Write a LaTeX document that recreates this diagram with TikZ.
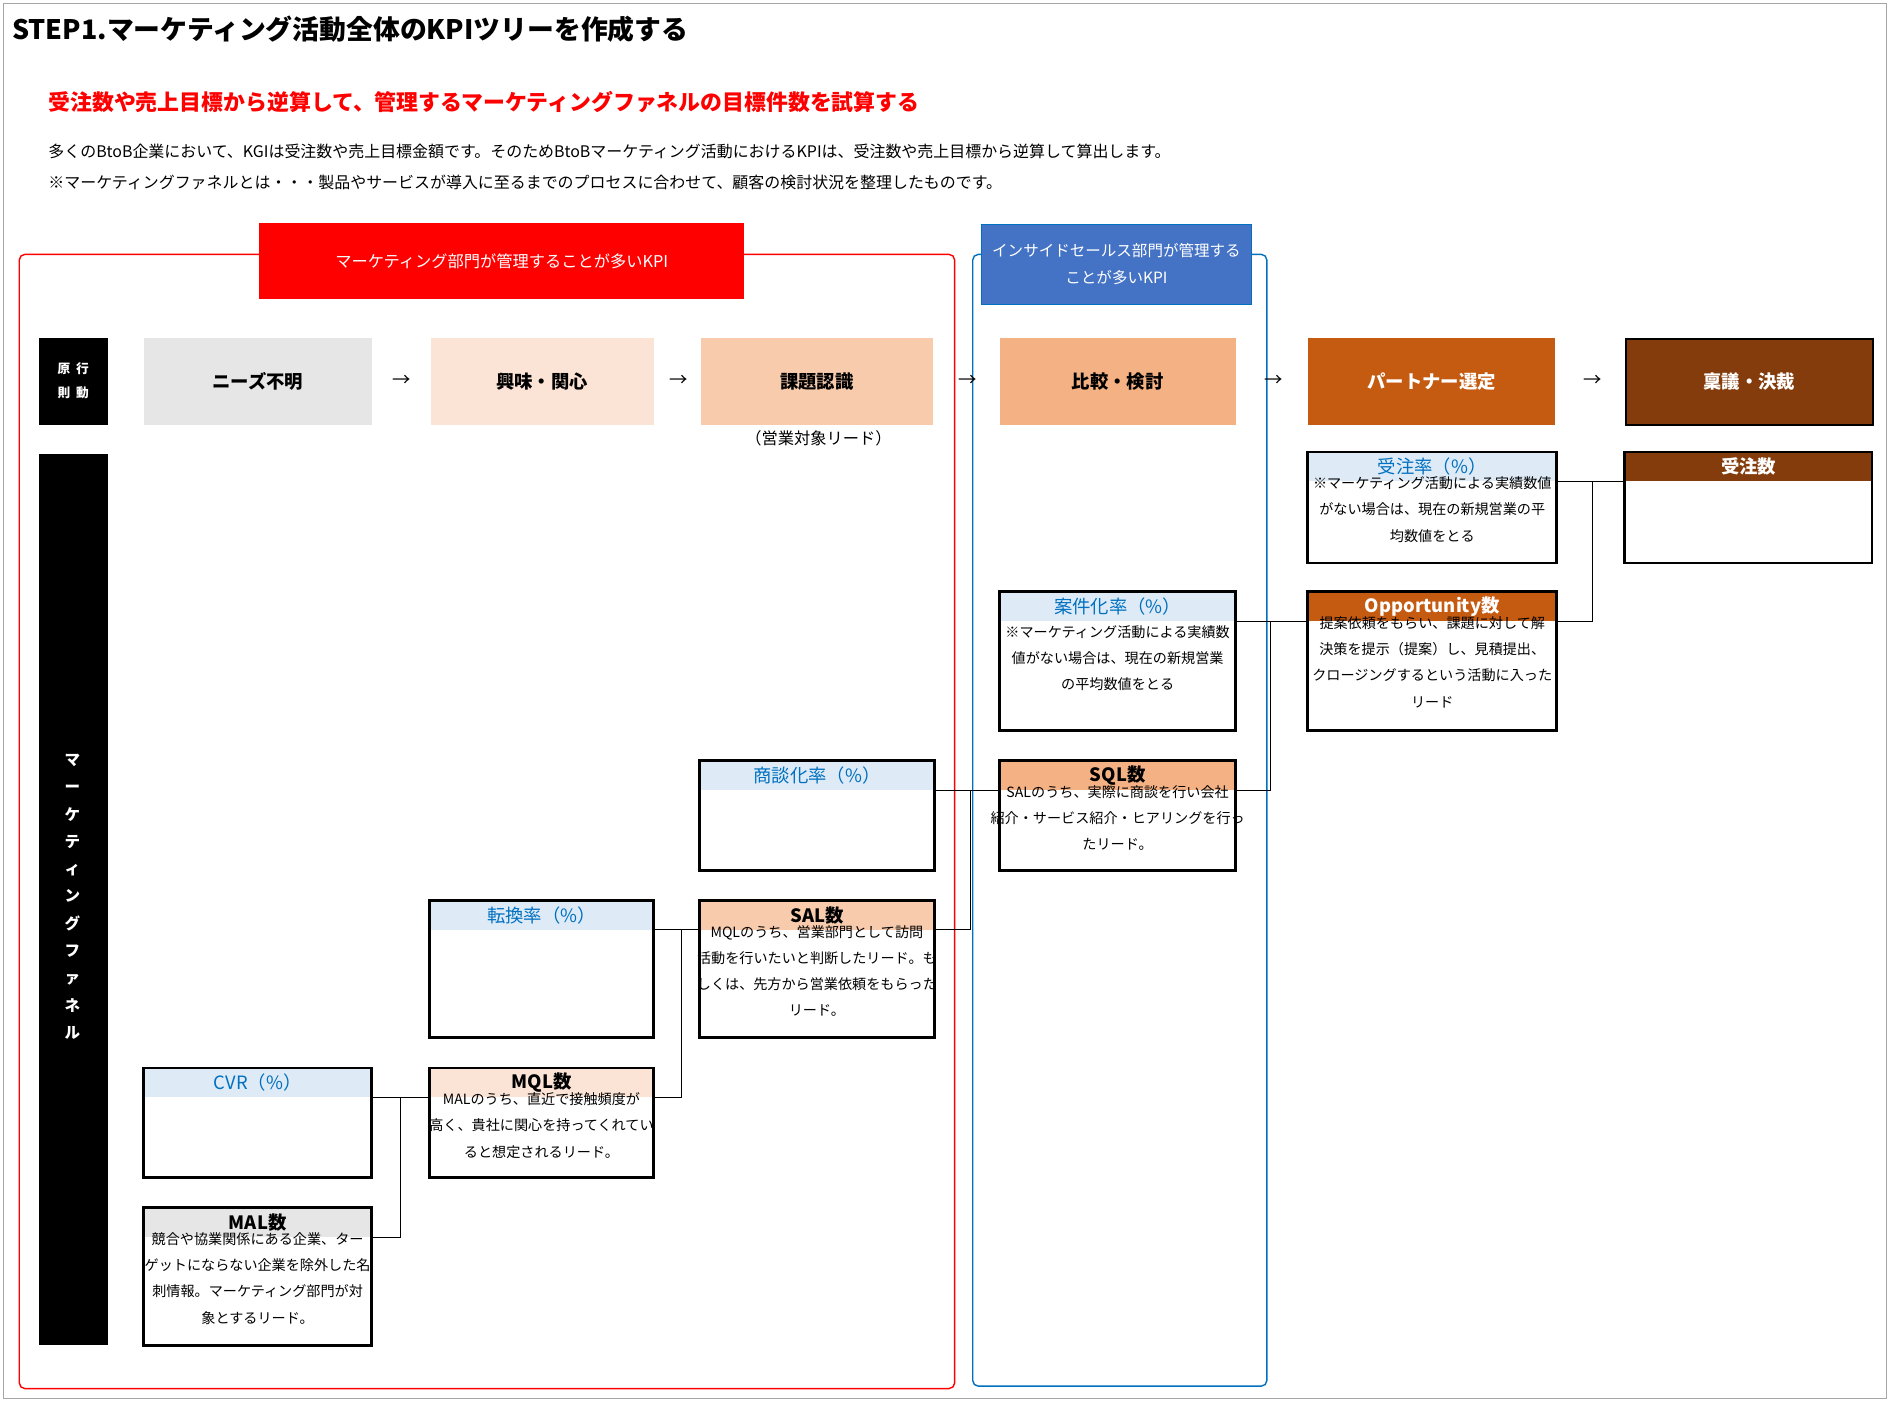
\documentclass[tikz,border=0pt]{standalone}
\usepackage{fontspec}
\setmainfont{Noto Sans CJK JP}
\usetikzlibrary{positioning,calc}
\definecolor{c0}{HTML}{E6E6E6}
\definecolor{c1}{HTML}{FBE4D5}
\definecolor{c2}{HTML}{F8CBAD}
\definecolor{c3}{HTML}{F4B183}
\definecolor{c4}{HTML}{C55A11}
\definecolor{c5}{HTML}{843C0C}
\definecolor{lb}{HTML}{DEEBF7}
\definecolor{bt}{HTML}{0070C0}
\definecolor{hb}{HTML}{4472C4}
\tikzset{
  stage/.style={anchor=north west, minimum height=72*0.03cm, inner sep=0pt, font=\fontsize{13}{15}\selectfont\bfseries},
  body/.style={anchor=north, align=center, font=\fontsize{10}{18.5}\selectfont, inner sep=0pt},
  head/.style={anchor=north west, minimum height=24*0.03cm, inner sep=0pt, font=\fontsize{13}{15}\selectfont\bfseries},
  link/.style={draw, line width=0.6pt},
}
% KPI box: name, x, y, w, h, fill, text colour, title, body
\newcommand{\kpibox}[9]{%
  \node[head, fill=#6, text=#7, minimum width=#4*0.03cm] (#1-h) at (#2,#3) {#8};
  \coordinate (#1-b) at (#2+#4,#3+#5);
  \node[body] (#1-t) at ($(#1-h.south)+(0,-4)$) {#9};
  \draw[line width=2pt] (#2,#3) rectangle (#1-b);
}
\begin{document}
\begin{tikzpicture}[x=0.03cm, y=-0.03cm]
\useasboundingbox (0,0) rectangle (1568,1162);
\draw[gray!70, line width=0.6pt] (3,3) rectangle (1565,1160);

% Titles
\node[anchor=west, font=\fontsize{19}{22}\selectfont\bfseries] (title) at (6,24) {STEP1.マーケティング活動全体のKPIツリーを作成する};
\node[anchor=west, text=red, font=\fontsize{15.5}{18}\selectfont\bfseries] (sub) at (36,85) {受注数や売上目標から逆算して、管理するマーケティングファネルの目標件数を試算する};
\node[anchor=west, font=\fontsize{11.3}{14}\selectfont] (d1) at (36,126) {多くのBtoB企業において、KGIは受注数や売上目標金額です。そのためBtoBマーケティング活動におけるKPIは、受注数や売上目標から逆算して算出します。};
\node[anchor=west, font=\fontsize{11.3}{14}\selectfont] (d2) at (36,151) {※マーケティングファネルとは・・・製品やサービスが導入に至るまでのプロセスに合わせて、顧客の検討状況を整理したものです。};

% Department frames
\draw[red, line width=1pt, rounded corners=4pt] (16,211) rectangle (792,1152);
\node[anchor=north west, fill=red, text=white, minimum width=402*0.03cm, minimum height=63*0.03cm, inner sep=0pt, font=\fontsize{11.5}{14}\selectfont] (mkt) at (215,185) {マーケティング部門が管理することが多いKPI};
\draw[bt, line width=1pt, rounded corners=4pt] (807,211) rectangle (1051,1150);
\node[anchor=north west, fill=hb, draw=bt, text=white, align=center, minimum width=224*0.03cm, minimum height=66*0.03cm, inner sep=0pt, font=\fontsize{11}{19}\selectfont] (is) at (814,186) {インサイドセールス部門が管理する\\ことが多いKPI};

% Left bars
\node[anchor=north west, fill=black, text=white, minimum width=57*0.03cm, minimum height=72*0.03cm, inner sep=0pt, align=center, font=\fontsize{9}{17}\selectfont\bfseries] (rule) at (32,280) {原\ \ 行\\則\ \ 動};
\node[anchor=north west, fill=black, minimum width=57*0.03cm, minimum height=740*0.03cm, inner sep=0pt] (funnel) at (32,376) {};
\node[text=white, align=center, font=\fontsize{11}{19.3}\selectfont\bfseries] (ft) at (60,744) {マ\\ー\\ケ\\テ\\ィ\\ン\\グ\\フ\\ァ\\ネ\\ル};

% Stages
\node[stage, fill=c0, minimum width=189*0.03cm] (s1) at (119,280) {ニーズ不明};
\node[stage, fill=c1, minimum width=185*0.03cm] (s2) at (357,280) {興味・関心};
\node[stage, fill=c2, minimum width=193*0.03cm] (s3) at (581,280) {課題認識};
\node[stage, fill=c3, minimum width=196*0.03cm] (s4) at (829,280) {比較・検討};
\node[stage, fill=c4, text=white, minimum width=205*0.03cm] (s5) at (1085,280) {パートナー選定};
\node[stage, fill=c5, text=white, draw=black, line width=1.5pt, minimum width=205*0.03cm] (s6) at (1348,280) {稟議・決裁};
\foreach \x in {333,563,803,1057,1321}
  \node[font=\fontsize{13}{15}\selectfont] at (\x,316) {→};
\node[font=\fontsize{11.5}{14}\selectfont] (lead) at (679,364) {（営業対象リード）};

% KPI boxes
\kpibox{jr}{1085}{375}{206}{92}{lb}{bt}{\mdseries 受注率（\%）}{※マーケティング活動による実績数値\\がない場合は、現在の新規営業の平\\均数値をとる}
\kpibox{js}{1348}{375}{205}{92}{c5}{white}{受注数}{}
\kpibox{ar}{829}{491}{196}{115}{lb}{bt}{\mdseries 案件化率（\%）}{\\[-4pt]※マーケティング活動による実績数\\値がない場合は、現在の新規営業\\の平均数値をとる}
\kpibox{op}{1085}{491}{206}{115}{c4}{white}{Opportunity数}{提案依頼をもらい、課題に対して解\\決策を提示（提案）し、見積提出、\\クロージングするという活動に入った\\リード}
\kpibox{sr}{580}{631}{195}{91}{lb}{bt}{\mdseries 商談化率（\%）}{}
\kpibox{sql}{829}{631}{196}{91}{c3}{black}{SQL数}{SALのうち、実際に商談を行い会社\\紹介・サービス紹介・ヒアリングを行っ\\たリード。}
\kpibox{cr}{356}{747}{186}{114}{lb}{bt}{\mdseries 転換率（\%）}{}
\kpibox{sal}{580}{747}{195}{114}{c2}{black}{SAL数}{MQLのうち、営業部門として訪問\\活動を行いたいと判断したリード。も\\しくは、先方から営業依頼をもらった\\リード。}
\kpibox{cvr}{119}{886}{189}{91}{lb}{bt}{\mdseries CVR（\%）}{}
\kpibox{mql}{356}{886}{186}{91}{c1}{black}{MQL数}{MALのうち、直近で接触頻度が\\高く、貴社に関心を持ってくれてい\\ると想定されるリード。}
\kpibox{mal}{119}{1002}{189}{114}{c0}{black}{MAL数}{競合や協業関係にある企業、ター\\ゲットにならない企業を除外した名\\刺情報。マーケティング部門が対\\象とするリード。}

% Connectors
\draw[link] (jr-h.south east) -- (js-h.south west);
\draw[link] (op-h.south east) -| (1321,400);
\draw[link] (ar-h.south east) -- (op-h.south west);
\draw[link] (sql-h.south east) -| (1054,515);
\draw[link] (sr-h.south east) -- (sql-h.south west);
\draw[link] (sal-h.south east) -| (805,655);
\draw[link] (cr-h.south east) -- (sal-h.south west);
\draw[link] (mql-h.south east) -| (565,771);
\draw[link] (cvr-h.south east) -- (mql-h.south west);
\draw[link] (mal-h.south east) -| (332,910);
\end{tikzpicture}
\end{document}
